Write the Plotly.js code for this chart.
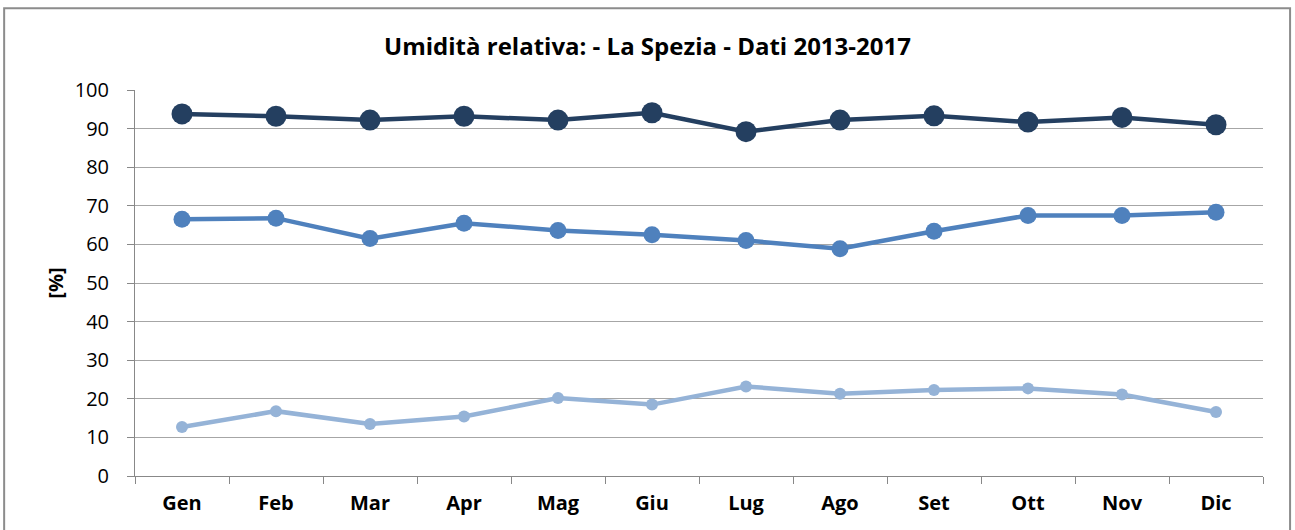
<!DOCTYPE html>
<html><head><meta charset="utf-8">
<script src="https://cdn.plot.ly/plotly-3.0.1.min.js"></script>
<style>html,body{margin:0;padding:0;background:#fff;}#chart{width:1295px;height:530px;}</style>
</head><body><div id="chart"></div>
<script>
const months = ["Gen","Feb","Mar","Apr","Mag","Giu","Lug","Ago","Set","Ott","Nov","Dic"];
const umiditaMax = [93.8,93.2,92.2,93.2,92.2,94.1,89.2,92.2,93.3,91.7,92.9,91.0];
const umiditaMedia = [66.5,66.8,61.5,65.5,63.6,62.5,61.0,58.9,63.4,67.5,67.5,68.3];
const umiditaMin = [12.7,16.8,13.5,15.4,20.2,18.5,23.2,21.3,22.3,22.7,21.1,16.6];

const traces = [
  {x: months, y: umiditaMax, mode:'lines+markers', name:'Max',
   line:{color:'#243F60', width:4.5}, marker:{color:'#243F60', size:21}},
  {x: months, y: umiditaMedia, mode:'lines+markers', name:'Media',
   line:{color:'#4F81BD', width:4.5}, marker:{color:'#4F81BD', size:17}},
  {x: months, y: umiditaMin, mode:'lines+markers', name:'Min',
   line:{color:'#95B3D7', width:4.5}, marker:{color:'#95B3D7', size:12}}
];
const layout = {
  width:1295, height:530,
  margin:{l:135, r:32, t:90, b:54},
  paper_bgcolor:'#fff', plot_bgcolor:'#fff',
  showlegend:false,
  font:{family:'Open Sans, sans-serif', color:'#000'},
  title:{text:'<b>Umidità relativa: - La Spezia - Dati 2013-2017</b>', x:0.5, xanchor:'center', y:0.912, yanchor:'middle',
         font:{size:24, family:'Open Sans, sans-serif', color:'#000'}},
  xaxis:{type:'category', tickson:'boundaries', ticks:'outside', ticklen:7, tickcolor:'#888',
         showline:true, linecolor:'#888', linewidth:1, showgrid:false, ticklabelstandoff:9,
         tickfont:{size:20, family:'Open Sans, sans-serif', color:'#000', weight:'bold'},
         range:[-0.5,11.5]},
  yaxis:{range:[0,100], dtick:10, showgrid:true, gridcolor:'#a6a6a6', gridwidth:1,
         showline:true, linecolor:'#888', linewidth:1, ticks:'outside', ticklen:7, tickcolor:'#888',
         ticklabelstandoff:14,
         zeroline:false, tickfont:{size:20, family:'Open Sans, sans-serif', color:'#000'},
         title:{text:'<b>[%]</b>', standoff:5, font:{size:20, family:'Open Sans, sans-serif', color:'#000'}}},
  shapes:[{type:'rect', xref:'paper', yref:'paper', x0:-0.116, x1:1.024, y0:-0.2, y1:1.212,
           line:{color:'#8c8c8c', width:2}, fillcolor:'rgba(0,0,0,0)', layer:'below'}]
};
Plotly.newPlot('chart', traces, layout, {displayModeBar:false, staticPlot:true});
</script></body></html>
